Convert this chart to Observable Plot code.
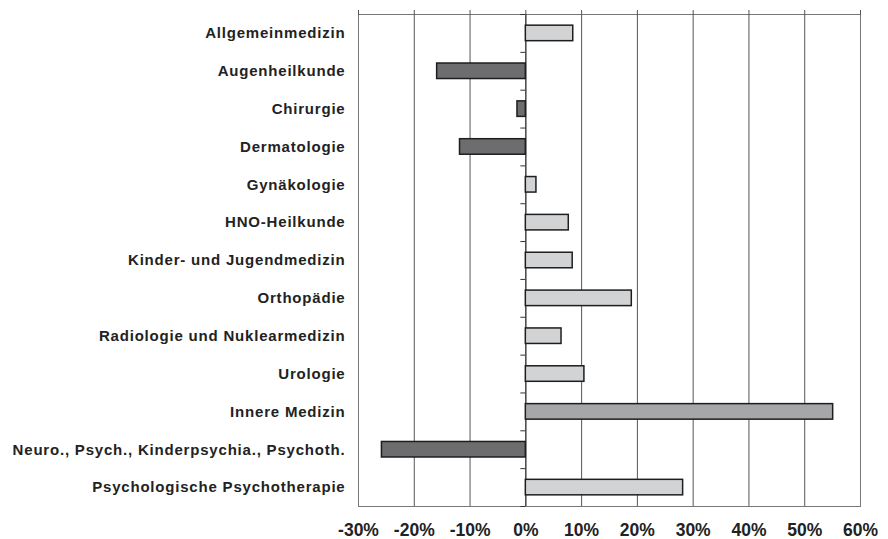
<!DOCTYPE html>
<html>
<head>
<meta charset="utf-8">
<script src="https://cdn.jsdelivr.net/npm/d3@7"></script>
<script src="https://cdn.jsdelivr.net/npm/@observablehq/plot@0.6"></script>
<style>
  html, body { margin: 0; padding: 0; background: #fff; }
  g[aria-label="y-axis tick label"] text { letter-spacing: 0.8px; }
</style>
</head>
<body>
<div id="chart"></div>
<script>
const categories = [
  "Allgemeinmedizin",
  "Augenheilkunde",
  "Chirurgie",
  "Dermatologie",
  "Gynäkologie",
  "HNO-Heilkunde",
  "Kinder- und Jugendmedizin",
  "Orthopädie",
  "Radiologie und Nuklearmedizin",
  "Urologie",
  "Innere Medizin",
  "Neuro., Psych., Kinderpsychia., Psychoth.",
  "Psychologische Psychotherapie"
];
const values = [8.5, -15.9, -1.5, -11.8, 1.9, 7.7, 8.4, 19.0, 6.4, 10.5, 55.1, -25.8, 28.2];
const xTicks = [-30, -20, -10, 0, 10, 20, 30, 40, 50, 60];

const data = categories.map((c, i) => ({category: c, i, value: values[i]}));
const boundaries = d3.range(categories.length + 1).map(i => i - 0.5);

const fillFor = d => d.value < 0 ? "#6d6d70" : (d.category === "Innere Medizin" ? "#a6a7a9" : "#d2d3d5");

const chart = Plot.plot({
  width: 888,
  height: 539,
  marginLeft: 358,
  marginRight: 28,
  marginTop: 14,
  marginBottom: 33,
  style: {fontFamily: "'Liberation Sans', Arial, sans-serif", background: "#fff", color: "#222"},
  x: {domain: [-30, 60], label: null},
  y: {domain: [-0.5, categories.length - 0.5], reverse: true, label: null},
  marks: [
    Plot.ruleX(xTicks, {stroke: "#555", strokeWidth: 1}),
    Plot.frame({stroke: "#777", strokeWidth: 1}),
    Plot.ruleX([0], {stroke: "#333", strokeWidth: 1}),
    Plot.ruleY(boundaries, {x1: 0, x2: 0, insetLeft: -5, stroke: "#333", strokeWidth: 1}),
    Plot.rectX(data, {
      x1: 0,
      x2: "value",
      y1: d => d.i - 0.205,
      y2: d => d.i + 0.205,
      fill: fillFor,
      stroke: "#1e1e1e",
      strokeWidth: 1.5
    }),
    Plot.axisX({anchor: "top", ticks: xTicks, tickSize: 5, tickFormat: () => "", stroke: "#555", label: null}),
    Plot.axisX({anchor: "bottom", ticks: xTicks, tickSize: 0, tickPadding: 17, tickFormat: d => d + "%",
      fontSize: 17.5, fontWeight: "bold", fill: "#222", label: null}),
    Plot.axisY({ticks: data.map(d => d.i), tickFormat: i => categories[i], tickSize: 0, tickPadding: 13,
      fontSize: 15, fontWeight: "bold", fill: "#222", label: null})
  ]
});
document.getElementById("chart").appendChild(chart);
</script>
</body>
</html>
